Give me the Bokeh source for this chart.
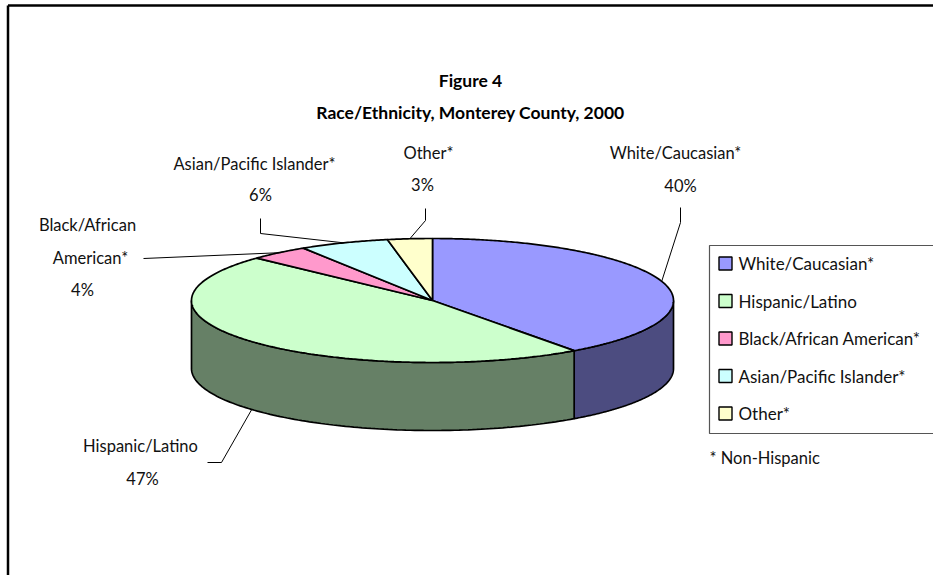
import numpy as np
from bokeh.plotting import figure
from bokeh.models import Range1d
from bokeh.core.properties import value
from bokeh.embed import file_html
from bokeh.resources import INLINE

# Race/Ethnicity shares, Monterey County, 2000
categories = ["White/Caucasian*", "Hispanic/Latino", "Black/African American*",
              "Asian/Pacific Islander*", "Other*"]
shares = [40, 47, 4, 6, 3]
top_colors = ["#9999FF", "#CCFFCC", "#FF99CC", "#CCFFFF", "#FFFFCC"]
side_colors = ["#4C4C80", "#668066", "#804C66", "#668080", "#808066"]
label_lines = [["White/Caucasian*"], ["Hispanic/Latino"], ["Black/African", "American*"],
               ["Asian/Pacific Islander*"], ["Other*"]]
title_lines = ["Figure 4", "Race/Ethnicity, Monterey County, 2000"]
footnote = "* Non-Hispanic"

W, H = 933, 575
FONT = "Lato"

# pie geometry (pixel space, y grows downward)
CX, CY, RX, RY, DEPTH = 432, 300, 241, 62, 68

p = figure(width=W, height=H, x_range=Range1d(0, W), y_range=Range1d(H, 0),
           output_backend="svg", toolbar_location=None,
           x_axis_type=None, y_axis_type=None, min_border=0)
p.outline_line_color = None
p.background_fill_color = "white"
p.border_fill_color = "white"


def ell(theta_deg, dy=0.0):
    t = np.radians(theta_deg)
    return CX + RX * np.cos(t), CY - RY * np.sin(t) + dy


# slice angles: start at 12 o'clock, run clockwise
fr = np.array(shares, dtype=float) / sum(shares)
ends = 90 - 360 * np.cumsum(fr)
starts = ends + 360 * fr
mids = (starts + ends) / 2

# outer frame
p.line([7.5, 7.5], [H + 5, 5], line_color="black", line_width=2.5)
p.line([7.5, W + 5], [5, 5], line_color="black", line_width=2.5)

# side walls of the visible front half
side_xs, side_ys, side_fill = [], [], []
for i in range(len(shares)):
    a0, a1 = starts[i], ends[i]
    for k in (0, -1):
        lo = max(a1, -180 + 360 * k)
        hi = min(a0, 0 + 360 * k)
        if lo < hi:
            ts = np.linspace(hi, lo, 120)
            tx, ty = ell(ts)
            bx, by = ell(ts[::-1], DEPTH)
            side_xs.append(list(tx) + list(bx))
            side_ys.append(list(ty) + list(by))
            side_fill.append(side_colors[i])
p.patches(side_xs, side_ys, fill_color=side_fill, line_color="black", line_width=1.7)

# top faces
top_xs, top_ys = [], []
for i in range(len(shares)):
    n = max(8, int(abs(starts[i] - ends[i]) * 2))
    ts = np.linspace(starts[i], ends[i], n)
    ax, ay = ell(ts)
    top_xs.append([CX] + list(ax))
    top_ys.append([CY] + list(ay))
p.patches(top_xs, top_ys, fill_color=top_colors, line_color="black", line_width=1.7)

# leader lines from labels to slices
elbows = [[(680, 207), (680, 222)],
          [(207, 462), (221, 462)],
          [(143, 258)],
          [(260, 218), (260, 233)],
          [(425, 208), (425, 220)]]
lx, ly = [], []
for i, pts in enumerate(elbows):
    ex, ey = ell(mids[i])
    if np.sin(np.radians(mids[i])) < 0:
        ey += DEPTH
    lx.append([q[0] for q in pts] + [float(ex)])
    ly.append([q[1] for q in pts] + [float(ey)])
p.multi_line(lx, ly, line_color="black", line_width=1)

# slice labels
label_pos = [[(675, 152)], [(140, 445)], [(87, 224), (90, 257)], [(254, 163)], [(428, 152)]]
pct_pos = [(680, 185), (142, 478), (82, 289), (260, 194), (422, 184)]
tx_, ty_, tt_ = [], [], []
for i in range(len(shares)):
    for line, (x, y) in zip(label_lines[i], label_pos[i]):
        tx_.append(x); ty_.append(y); tt_.append(line)
    tx_.append(pct_pos[i][0]); ty_.append(pct_pos[i][1]); tt_.append(f"{shares[i]}%")
p.text(tx_, ty_, text=tt_, text_align="center", text_baseline="middle",
       text_font=value(FONT), text_font_size="16.5px", text_color="#111111")

# title
p.text([470, 470], [80, 112], text=title_lines, text_align="center", text_baseline="middle",
       text_font=value(FONT), text_font_size="17.5px", text_font_style="bold",
       text_color="#000000")

# legend
p.quad(left=[709], right=[W + 20], top=[245], bottom=[433], fill_color=None,
       line_color="#555555", line_width=1.2)
leg_y = [263, 300.5, 338, 375.5, 413]
p.rect(x=[725] * len(categories), y=leg_y, width=13, height=13,
       fill_color=top_colors, line_color="black", line_width=1.4)
p.text([738] * len(categories), leg_y, text=categories, text_align="left",
       text_baseline="middle", text_font=value(FONT), text_font_size="17px",
       text_color="#111111")
p.text([709], [457], text=[footnote], text_align="left", text_baseline="middle",
       text_font=value(FONT), text_font_size="16.5px", text_color="#111111")

open("out.html", "w").write(file_html(p, INLINE))
